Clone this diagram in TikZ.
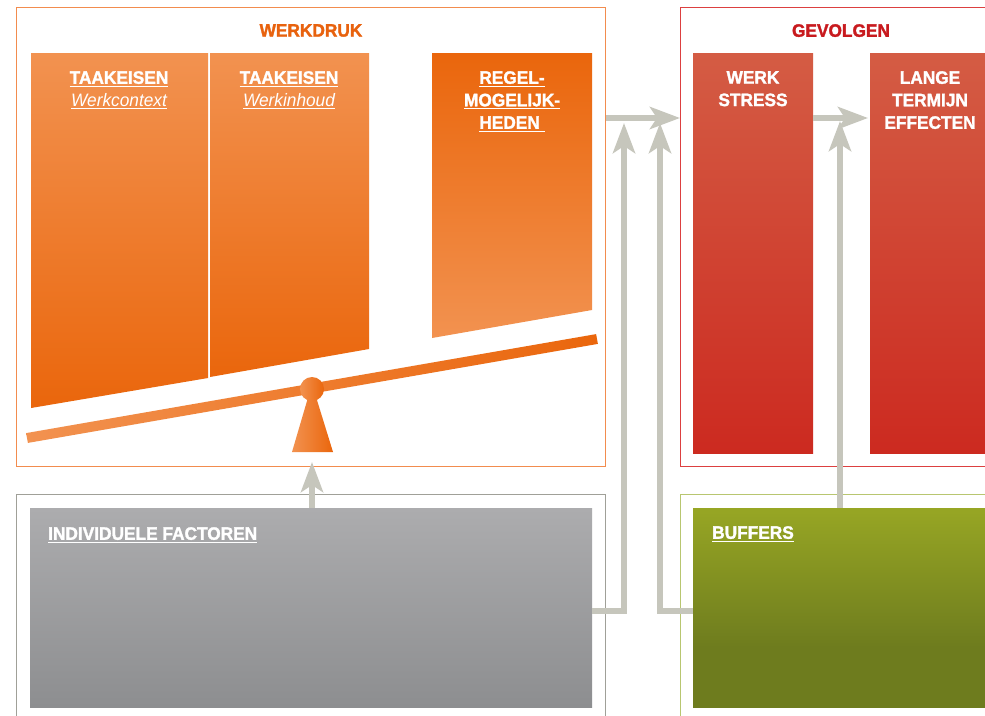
\documentclass[tikz,border=0pt]{standalone}
\usepackage{fontspec}
\setmainfont{Liberation Sans}[FakeStretch=0.96, BoldFeatures={FakeBold=1.6}]
\newcommand\ulx[1]{\setbox0\hbox{#1}\rlap{\rule[-3pt]{\wd0}{1.2pt}}\box0}
\usetikzlibrary{arrows.meta}
\definecolor{orlight}{RGB}{242,146,80}
\definecolor{ordark}{RGB}{234,102,12}
\definecolor{wdtitle}{RGB}{232,98,14}
\definecolor{wdline}{RGB}{242,140,78}
\definecolor{gvtitle}{RGB}{200,26,30}
\definecolor{gvline}{RGB}{220,64,64}
\definecolor{rdtop}{RGB}{212,92,68}
\definecolor{rdbot}{RGB}{204,42,32}
\definecolor{grtop}{RGB}{172,172,174}
\definecolor{grbot}{RGB}{141,142,144}
\definecolor{indline}{RGB}{160,160,152}
\definecolor{bufline}{RGB}{184,198,112}
\definecolor{buftop}{RGB}{151,166,36}
\definecolor{bufbot}{RGB}{110,124,30}
\definecolor{arrgrey}{RGB}{198,198,188}
\pgfdeclareverticalshading{bufshade}{100bp}{color(0bp)=(bufbot); color(40bp)=(bufbot); color(75bp)=(buftop); color(100bp)=(buftop)}
\tikzset{
  frame/.style={draw, line width=1pt, inner sep=0pt, anchor=north west, fill=none},
  box/.style={inner sep=0pt, anchor=north west, draw=none},
  txt/.style={text=white, font=\bfseries\fontsize{18}{22.5}\selectfont, align=center, inner sep=0pt},
  title/.style={font=\bfseries\fontsize{18}{22.5}\selectfont, inner sep=0pt, anchor=north},
  arr/.style={draw=arrgrey, line width=6pt, -{Stealth[length=30pt,width=22pt,inset=7pt]}}
}
\begin{document}
\begin{tikzpicture}[x=1pt,y=-1pt]
\clip (0,0) rectangle (985,715);
\fill[white] (0,0) rectangle (985,715);

% frames
\node[frame, draw=wdline, minimum width=589pt, minimum height=459pt] (werkdruk) at (16,7) {};
\node[frame, draw=gvline, minimum width=330pt, minimum height=459pt] (gevolgen) at (680,7) {};
\node[frame, draw=indline, minimum width=589pt, minimum height=240pt] (indframe) at (16,494) {};
\node[frame, draw=bufline, minimum width=330pt, minimum height=240pt] (bufframe) at (680,494) {};

% titles
\node[title, text=wdtitle] (wdtitle) at (311,24) {WERKDRUK};
\node[title, text=gvtitle] (gvtitle) at (841,24) {GEVOLGEN};

% werkdruk boxes
\shade[top color=orlight, bottom color=ordark] (31,53) -- (208,53) -- (208,378) -- (31,408) -- cycle;
\shade[top color=orlight, bottom color=ordark] (210,53) -- (369,53) -- (369,349) -- (210,377) -- cycle;
\shade[top color=ordark, bottom color=orlight] (432,53) -- (592,53) -- (592,310) -- (432,338) -- cycle;

% beam and fulcrum
\shade[left color=orlight, right color=ordark] (26.1,433.1) -- (596.1,334.1) -- (597.9,343.9) -- (27.9,442.9) -- cycle;
\shade[left color=orlight, right color=ordark] (312,384) -- (333,452) -- (292,452) -- cycle;
\shade[left color=orlight, right color=ordark] (312,389) circle (12);

% gevolgen boxes
\node[box, top color=rdtop, bottom color=rdbot, minimum width=120pt, minimum height=400pt] (ws) at (693,53) {};
\node[box, top color=rdtop, bottom color=rdbot, minimum width=120pt, minimum height=400pt] (lt) at (870,53) {};

% bottom boxes
\node[box, top color=grtop, bottom color=grbot, minimum width=562pt, minimum height=199pt] (ind) at (30,508) {};
\node[box, shading=bufshade, minimum width=300pt, minimum height=199pt] (buf) at (693,508) {};

% arrows
\coordinate (fulc) at (312,462);
\coordinate (up1) at (624,123);
\coordinate (up2) at (660,123);
\coordinate (up3) at (840,121);
\draw[arr] (ind.north -| fulc) -- (fulc);
\draw[arr] (werkdruk.east |- 0,118) -- (gevolgen.west |- 0,118);
\draw[arr, shorten >=2pt] (ws.east |- 0,118) -- (lt.west |- 0,118);
\draw[arr] (ind.east |- 0,611) -| (up1);
\draw[arr] (buf.west |- 0,611) -| (up2);
\draw[arr] (buf.north -| up3) -- (up3);

% texts
\node[txt, anchor=north] (t1) at (119,71) {\ulx{TAAKEISEN}\\\ulx{\mdseries\itshape Werkcontext}};
\node[txt, anchor=north] (t2) at (289,71) {\ulx{TAAKEISEN}\\\ulx{\mdseries\itshape Werkinhoud}};
\node[txt, anchor=north] (t3) at (512,71) {\ulx{REGEL-}\\\ulx{MOGELIJK-}\\\ulx{HEDEN\ }};
\node[txt, anchor=north] (t4) at (753,71) {WERK\\STRESS};
\node[txt, anchor=north] (t5) at (930,71) {LANGE\\TERMIJN\\EFFECTEN};
\node[txt, anchor=north west] (t6) at (48,527) {\ulx{INDIVIDUELE FACTOREN}};
\node[txt, anchor=north west] (t7) at (712,526) {\ulx{BUFFERS}};
\end{tikzpicture}
\end{document}
